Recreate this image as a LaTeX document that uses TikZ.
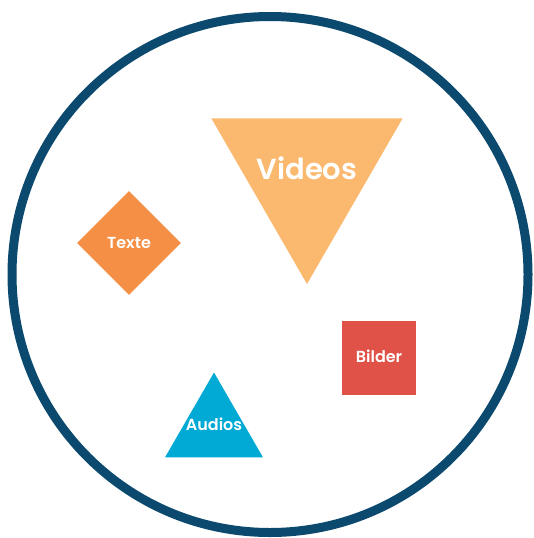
\documentclass[tikz,border=0pt]{standalone}
\usepackage{fontspec}
\setmainfont{Poppins}[BoldFont={Poppins SemiBold}]
\usepackage{xcolor}
\usetikzlibrary{shapes.geometric}
\definecolor{RingBlue}{HTML}{0B4A6E}
\definecolor{VideoOrange}{HTML}{FBB970}
\definecolor{TextOrange}{HTML}{F58F46}
\definecolor{ImageRed}{HTML}{E05247}
\definecolor{AudioCyan}{HTML}{00AAD5}
\tikzstyle{mediaRing}=[draw=RingBlue, line width=9pt, circle, minimum size=516pt, inner sep=0pt]
\tikzstyle{mediaShape}=[inner sep=0pt]
\tikzstyle{videoTri}=[mediaShape, fill=VideoOrange, regular polygon, regular polygon sides=3, shape border rotate=180, minimum size=221pt]
\tikzstyle{audioTri}=[mediaShape, fill=AudioCyan, regular polygon, regular polygon sides=3, minimum size=113pt]
\tikzstyle{textDiamond}=[mediaShape, fill=TextOrange, diamond, minimum width=104pt, minimum height=104pt]
\tikzstyle{imageSquare}=[mediaShape, fill=ImageRed, minimum size=74pt]
\tikzstyle{smallLabel}=[text=white, font=\fontsize{16}{16}\selectfont\bfseries, inner sep=0pt]
\tikzstyle{bigLabel}=[smallLabel, font=\fontsize{29}{29}\selectfont\bfseries]

\begin{document}
\begin{tikzpicture}[x=1pt, y=-1pt]
        \useasboundingbox (0,0) rectangle (533,538);

        % Outer ring
        \node[mediaRing] (ring) at (270, 274.5) {};

        % Media types
        \node[videoTri] (videos) at (307, 173.5) {};
        \node[bigLabel] (videosText) at (307, 168) {Videos};

        \node[textDiamond] (texte) at (129, 243) {};
        \node[smallLabel] (texteText) at (129, 243) {Texte};

        \node[imageSquare] (bilder) at (379, 358) {};
        \node[smallLabel] (bilderText) at (379, 356) {Bilder};

        \node[audioTri] (audios) at (214, 429) {};
        \node[smallLabel] (audiosText) at (214, 424) {Audios};

\end{tikzpicture}
\end{document}
